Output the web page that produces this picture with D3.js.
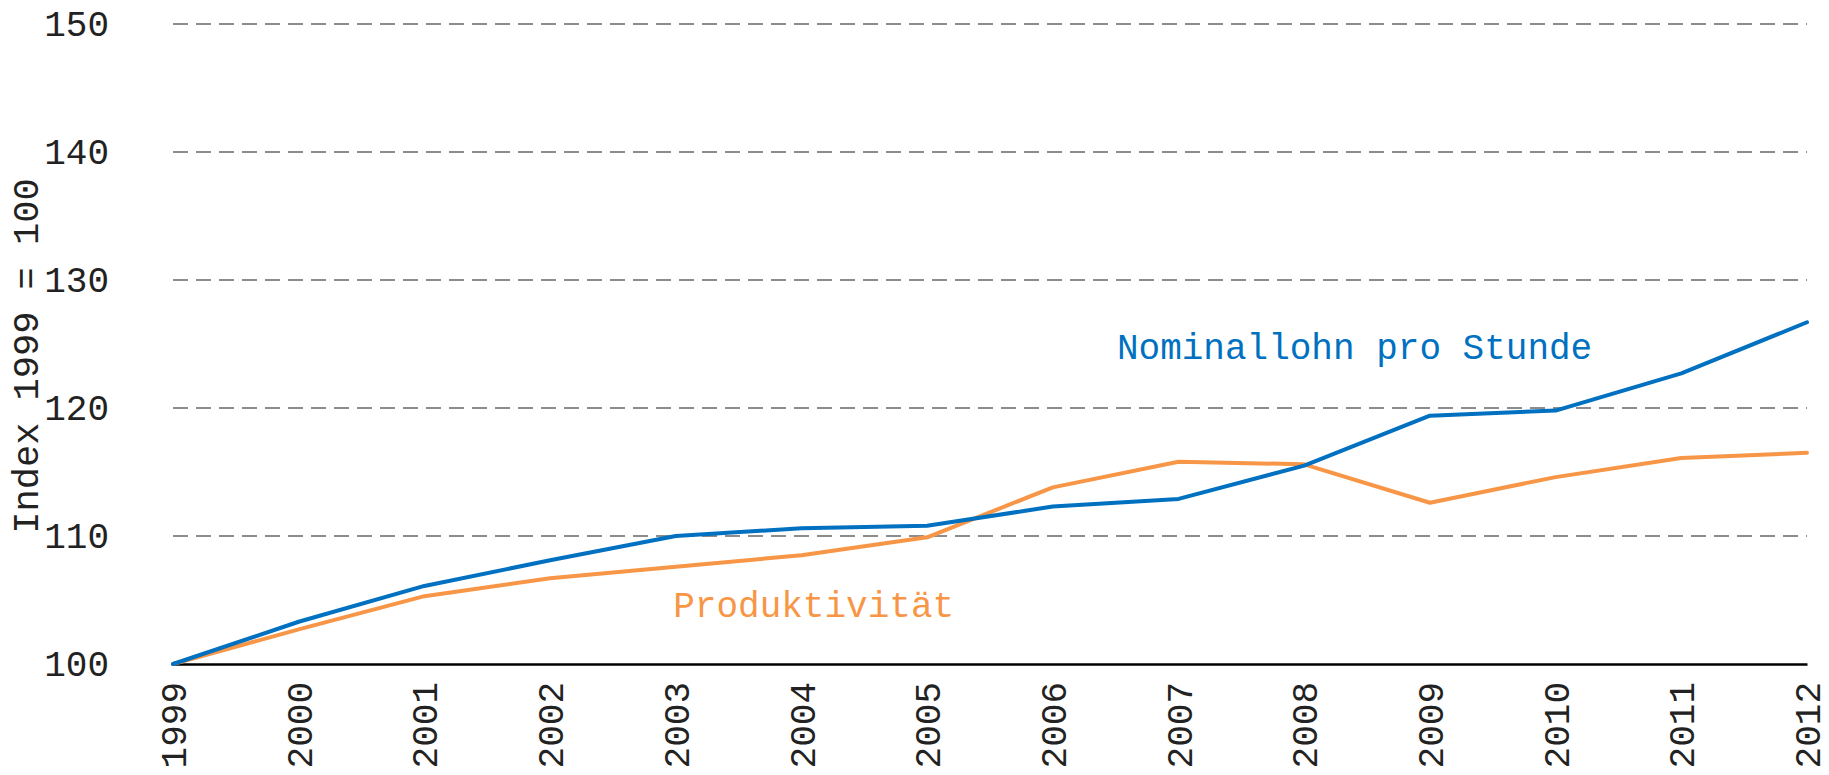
<!DOCTYPE html>
<html lang="de">
<head>
    <meta charset="UTF-8">
    <title>Nominallohn und Produktivität</title>
    <script src="https://cdn.jsdelivr.net/npm/d3@7"></script>
    <style>
        body { margin: 0; background: #fff; }
        svg text { font-family: "Liberation Mono", "Courier New", monospace; }
    </style>
</head>
<body>
    <div id="chart"></div>
    <script>
        // data
        const years = [1999, 2000, 2001, 2002, 2003, 2004, 2005, 2006, 2007, 2008, 2009, 2010, 2011, 2012]
        const nominallohn = [100, 103.3, 106.1, 108.1, 110.0, 110.6, 110.8, 112.3, 112.9, 115.5, 119.4, 119.8, 122.7, 126.7]
        const produktivitaet = [100, 102.7, 105.3, 106.7, 107.6, 108.5, 109.9, 113.8, 115.8, 115.6, 112.6, 114.6, 116.1, 116.5]
        const yTicks = [100, 110, 120, 130, 140, 150]
        const seriesNames = ['Nominallohn pro Stunde', 'Produktivität']
        const yTitle = 'Index 1999 = 100'

        let w = 1829
        let h = 775
        let margin = {top: 24, right: 22, bottom: 111, left: 173}

        let svg = d3.select('#chart').append('svg')
            .attr('width', w)
            .attr('height', h)

        let xScale = d3.scaleLinear()
            .domain([1999, 2012])
            .range([margin.left, w - margin.right])
        let yScale = d3.scaleLinear()
            .domain([100, 150])
            .range([h - margin.bottom, margin.top])

        // dashed gridlines
        svg.append('g')
            .selectAll('line')
            .data(yTicks.filter(d => d > 100))
            .enter()
            .append('line')
            .attr('x1', xScale(1999))
            .attr('x2', xScale(2012))
            .attr('y1', d => yScale(d))
            .attr('y2', d => yScale(d))
            .attr('stroke', '#8c8c8c')
            .attr('stroke-width', 2)
            .attr('stroke-dasharray', '15,8')

        // y axis labels
        let yAxis = d3.axisLeft(yScale).tickValues(yTicks).tickSize(0).tickPadding(64)
        let gy = svg.append('g')
            .attr('transform', `translate(${margin.left}, 0)`)
            .call(yAxis)
        gy.select('.domain').remove()
        gy.selectAll('text')
            .attr('font-size', 36)
            .attr('fill', '#222')
            .style('font-family', '"Liberation Mono", "Courier New", monospace')

        // x axis, labels rotated
        let xAxis = d3.axisBottom(xScale).tickValues(years).tickFormat(d3.format('d')).tickSize(0)
        let gx = svg.append('g')
            .attr('transform', `translate(0, ${yScale(100)})`)
            .call(xAxis)
        gx.select('.domain')
            .attr('stroke', '#000')
            .attr('stroke-width', 2.5)
        gx.selectAll('text')
            .attr('font-size', 36)
            .attr('fill', '#222')
            .style('font-family', '"Liberation Mono", "Courier New", monospace')
            .attr('text-anchor', 'end')
            .attr('transform', 'rotate(-90)')
            .attr('x', -18)
            .attr('y', 0)
            .attr('dy', '0.35em')

        // y title
        svg.append('text')
            .attr('transform', 'translate(38, 356) rotate(-90)')
            .attr('text-anchor', 'middle')
            .attr('font-size', 37)
            .attr('fill', '#222')
            .text(yTitle)

        const series = [
            {name: seriesNames[0], values: nominallohn, color: '#0070c0', lx: 2006.51, ly: 123.8},
            {name: seriesNames[1], values: produktivitaet, color: '#f79646', lx: 2002.98, ly: 103.7}
        ]

        let line = d3.line()
            .x((d, i) => xScale(years[i]))
            .y(d => yScale(d))

        // orange first so blue is on top where they cross
        svg.selectAll('.series')
            .data(series.slice().reverse())
            .enter()
            .append('path')
            .attr('class', 'series')
            .attr('d', d => line(d.values))
            .attr('fill', 'none')
            .attr('stroke', d => d.color)
            .attr('stroke-width', 4)
            .attr('stroke-linejoin', 'round')
            .attr('stroke-linecap', 'round')

        // series labels
        svg.selectAll('.series-label')
            .data(series)
            .enter()
            .append('text')
            .attr('class', 'series-label')
            .attr('x', d => xScale(d.lx))
            .attr('y', d => yScale(d.ly))
            .attr('font-size', 36)
            .attr('fill', d => d.color)
            .text(d => d.name)
    </script>
</body>
</html>
